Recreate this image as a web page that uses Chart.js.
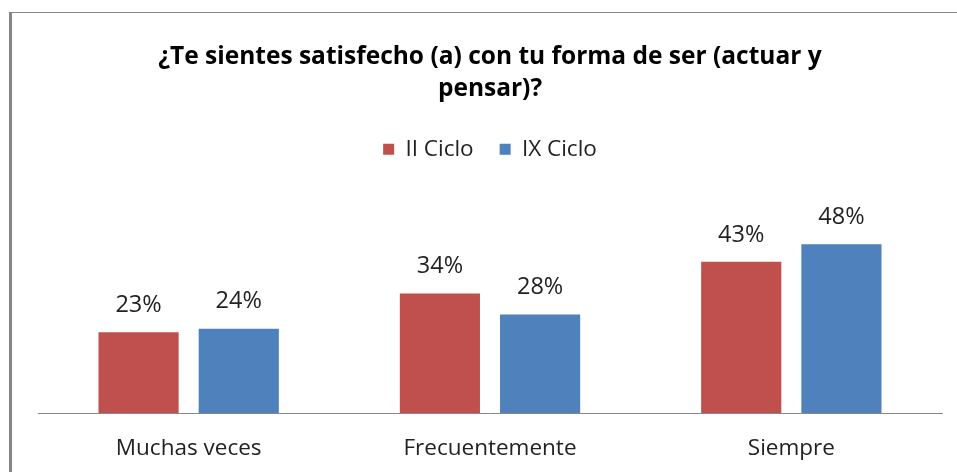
<!DOCTYPE html>
<html>
<head>
<meta charset="utf-8">
<script src="https://cdn.jsdelivr.net/npm/chart.js@4.4.1/dist/chart.umd.min.js"></script>
<style>
html,body{margin:0;padding:0;background:#fff;}
#wrap{position:relative;width:957px;height:472px;}
</style>
</head>
<body>
<div id="wrap"><canvas id="c" width="957" height="472"></canvas></div>
<script>
const titleLines = ["¿Te sientes satisfecho (a) con tu forma de ser (actuar y", "pensar)?"];
const categories = ["Muchas veces", "Frecuentemente", "Siempre"];
const seriesNames = ["II Ciclo", "IX Ciclo"];
const iiCiclo = [0.23, 0.34, 0.43];
const ixCiclo = [0.24, 0.28, 0.48];
const colors = ["#C0504D", "#4F81BD"];
const FONT = "'Open Sans', sans-serif";

const framePlugin = {
  id: 'frame',
  beforeDraw(chart) {
    const ctx = chart.ctx;
    ctx.save();
    ctx.fillStyle = '#868686';
    ctx.fillRect(9, 12, 3, 460);
    ctx.fillRect(9, 12, 948, 1);
    ctx.restore();
  }
};

const valueLabels = {
  id: 'valueLabels',
  afterDatasetsDraw(chart) {
    const ctx = chart.ctx;
    ctx.save();
    ctx.font = "23.5px " + FONT;
    ctx.fillStyle = '#222222';
    ctx.textAlign = 'center';
    ctx.textBaseline = 'middle';
    chart.data.datasets.forEach((ds, di) => {
      chart.getDatasetMeta(di).data.forEach((bar, i) => {
        ctx.fillText(Math.round(ds.data[i] * 100) + '%', bar.x, bar.y - 27);
      });
    });
    ctx.restore();
  }
};

new Chart(document.getElementById('c'), {
  type: 'bar',
  data: {
    labels: categories,
    datasets: [
      { label: seriesNames[0], data: iiCiclo, backgroundColor: colors[0], categoryPercentage: 0.665, barPercentage: 0.8 },
      { label: seriesNames[1], data: ixCiclo, backgroundColor: colors[1], categoryPercentage: 0.665, barPercentage: 0.8 }
    ]
  },
  options: {
    responsive: false,
    animation: false,
    layout: { padding: { left: 38, right: 15, top: 0, bottom: -12 } },
    plugins: {
      title: {
        display: true,
        text: titleLines,
        color: '#000',
        font: { family: FONT, size: 24.5, weight: 'bold', lineHeight: 1.306 },
        padding: { top: 41, bottom: 7 }
      },
      legend: {
        display: true,
        position: 'top',
        labels: {
          boxWidth: 11, boxHeight: 11, padding: 26,
          color: '#222', font: { family: FONT, size: 22.5 }
        }
      },
      tooltip: { enabled: false }
    },
    scales: {
      y: { display: false, min: 0, max: 0.69 },
      x: {
        grid: { display: false, drawTicks: false },
        border: { display: true, color: '#888888', width: 1 },
        ticks: { color: '#222', font: { family: FONT, size: 22.5 }, padding: 22 }
      }
    }
  },
  plugins: [framePlugin, valueLabels]
});
</script>
</body>
</html>
